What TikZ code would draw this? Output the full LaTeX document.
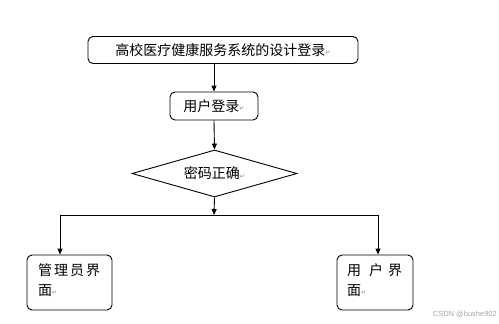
\documentclass[tikz,border=0pt]{standalone}
\usepackage{fontspec}
\setmainfont{Liberation Sans}
\newfontfamily\cjk{Noto Sans CJK SC}
\newfontfamily\symf{DejaVu Sans}
\usetikzlibrary{shapes.geometric,arrows.meta}
\newcommand{\retmark}{{\symf\fontsize{6}{6}\selectfont\color{gray}\raisebox{0.2ex}{↵}}}
\begin{document}
\begin{tikzpicture}[x=1pt,y=-1pt,
  box/.style={draw,line width=0.9pt,rounded corners=5pt,inner sep=0pt},
  txt/.style={font=\cjk\fontsize{14}{20}\selectfont},
  arr/.style={line width=0.9pt,-{Triangle[length=6pt,width=5pt]}},
  ln/.style={line width=0.9pt}]
\useasboundingbox (0,0) rectangle (499,324);
\node[box,txt,minimum width=270pt,minimum height=27pt] (title) at (223,50) {高校医疗健康服务系统的设计登录\retmark};
\node[box,txt,minimum width=88pt,minimum height=28pt] (login) at (214,106) {用户登录\retmark};
\node[draw,line width=0.9pt,diamond,aspect=3.55,inner sep=0pt,minimum width=165pt,minimum height=47pt,txt] (check) at (214.5,173.5) {};
\node[txt] (checktxt) at (check) {密码正确\retmark};
\coordinate (split) at (214,215);
\coordinate (splitL) at (60,215);
\coordinate (splitR) at (378,215);
\node[box,minimum width=85pt,minimum height=55pt] (admin) at (69.5,282.5) {};
\node[txt,anchor=north west,align=left,inner sep=0pt] (admintxt) at (38,263) {管\hspace{2pt}理\hspace{2pt}员\hspace{2pt}界\\面\retmark};
\node[box,minimum width=76pt,minimum height=55pt] (user) at (375,282.5) {};
\node[txt,anchor=north west,align=left,inner sep=0pt] (usertxt) at (347,263) {用\hspace{8pt}户\hspace{5pt}界\\面\retmark};
\draw[arr] (title.south -| login.north) -- (login.north);
\draw[arr] (login.south) -- (check.north);
\draw[arr] (check.south) -- (split);
\draw[ln] (splitL) -- (splitR);
\draw[arr] (splitL) -- (splitL |- admin.north);
\draw[arr] (splitR) -- (splitR |- user.north);
\node[font=\fontsize{7.5}{8}\selectfont,text=gray!70,anchor=east,inner sep=0pt] (wm) at (497,314) {CSDN @bushe902};
\end{tikzpicture}
\end{document}
